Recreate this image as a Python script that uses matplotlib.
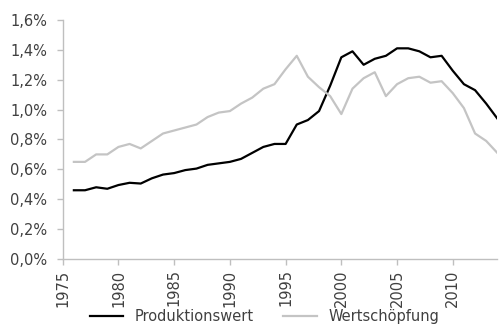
import matplotlib
matplotlib.use("Agg")
import matplotlib.pyplot as plt
from matplotlib.ticker import FuncFormatter, MultipleLocator

years = list(range(1976, 2015))
produktionswert = [0.46, 0.46, 0.48, 0.47, 0.495, 0.51, 0.505, 0.54, 0.565, 0.575,
                   0.595, 0.605, 0.63, 0.64, 0.65, 0.67, 0.71, 0.75, 0.77, 0.77,
                   0.90, 0.93, 0.99, 1.16, 1.35, 1.39, 1.30, 1.34, 1.36, 1.41,
                   1.41, 1.39, 1.35, 1.36, 1.26, 1.17, 1.13, 1.04, 0.94]
wertschoepfung = [0.65, 0.65, 0.70, 0.70, 0.75, 0.77, 0.74, 0.79, 0.84, 0.86,
                  0.88, 0.90, 0.95, 0.98, 0.99, 1.04, 1.08, 1.14, 1.17, 1.27,
                  1.36, 1.22, 1.15, 1.09, 0.97, 1.14, 1.21, 1.25, 1.09, 1.17,
                  1.21, 1.22, 1.18, 1.19, 1.11, 1.01, 0.84, 0.79, 0.71]

txt = "#404040"
axc = "#bfbfbf"

fig = plt.figure(figsize=(4.99, 3.27), dpi=100)
ax = fig.add_axes([0.1257, 0.208, 0.871, 0.731])

ax.plot(years, produktionswert, color="black", lw=1.6, label="Produktionswert")
ax.plot(years, wertschoepfung, color="#c4c4c4", lw=1.6, label="Wertschöpfung")

ax.set_xlim(1975, 2014)
ax.set_ylim(0, 1.6)
ax.xaxis.set_major_locator(MultipleLocator(5))
ax.yaxis.set_major_locator(MultipleLocator(0.2))
ax.yaxis.set_major_formatter(FuncFormatter(lambda v, p: f"{v:.1f}%".replace(".", ",")))

for s in ["top", "right"]:
    ax.spines[s].set_visible(False)
for s in ["left", "bottom"]:
    ax.spines[s].set_color(axc)
    ax.spines[s].set_linewidth(1.0)

ax.tick_params(axis="both", colors=axc, labelcolor=txt, labelsize=10.5, length=4, width=1)
ax.tick_params(axis="y", pad=7)
plt.setp(ax.get_xticklabels(), rotation=90)

fig.legend(loc="lower center", bbox_to_anchor=(0.53, -0.032), ncol=2, frameon=False,
           fontsize=10.5, handlelength=2.3, columnspacing=2.0, labelcolor=txt)

fig.savefig("out.png", dpi=100)
